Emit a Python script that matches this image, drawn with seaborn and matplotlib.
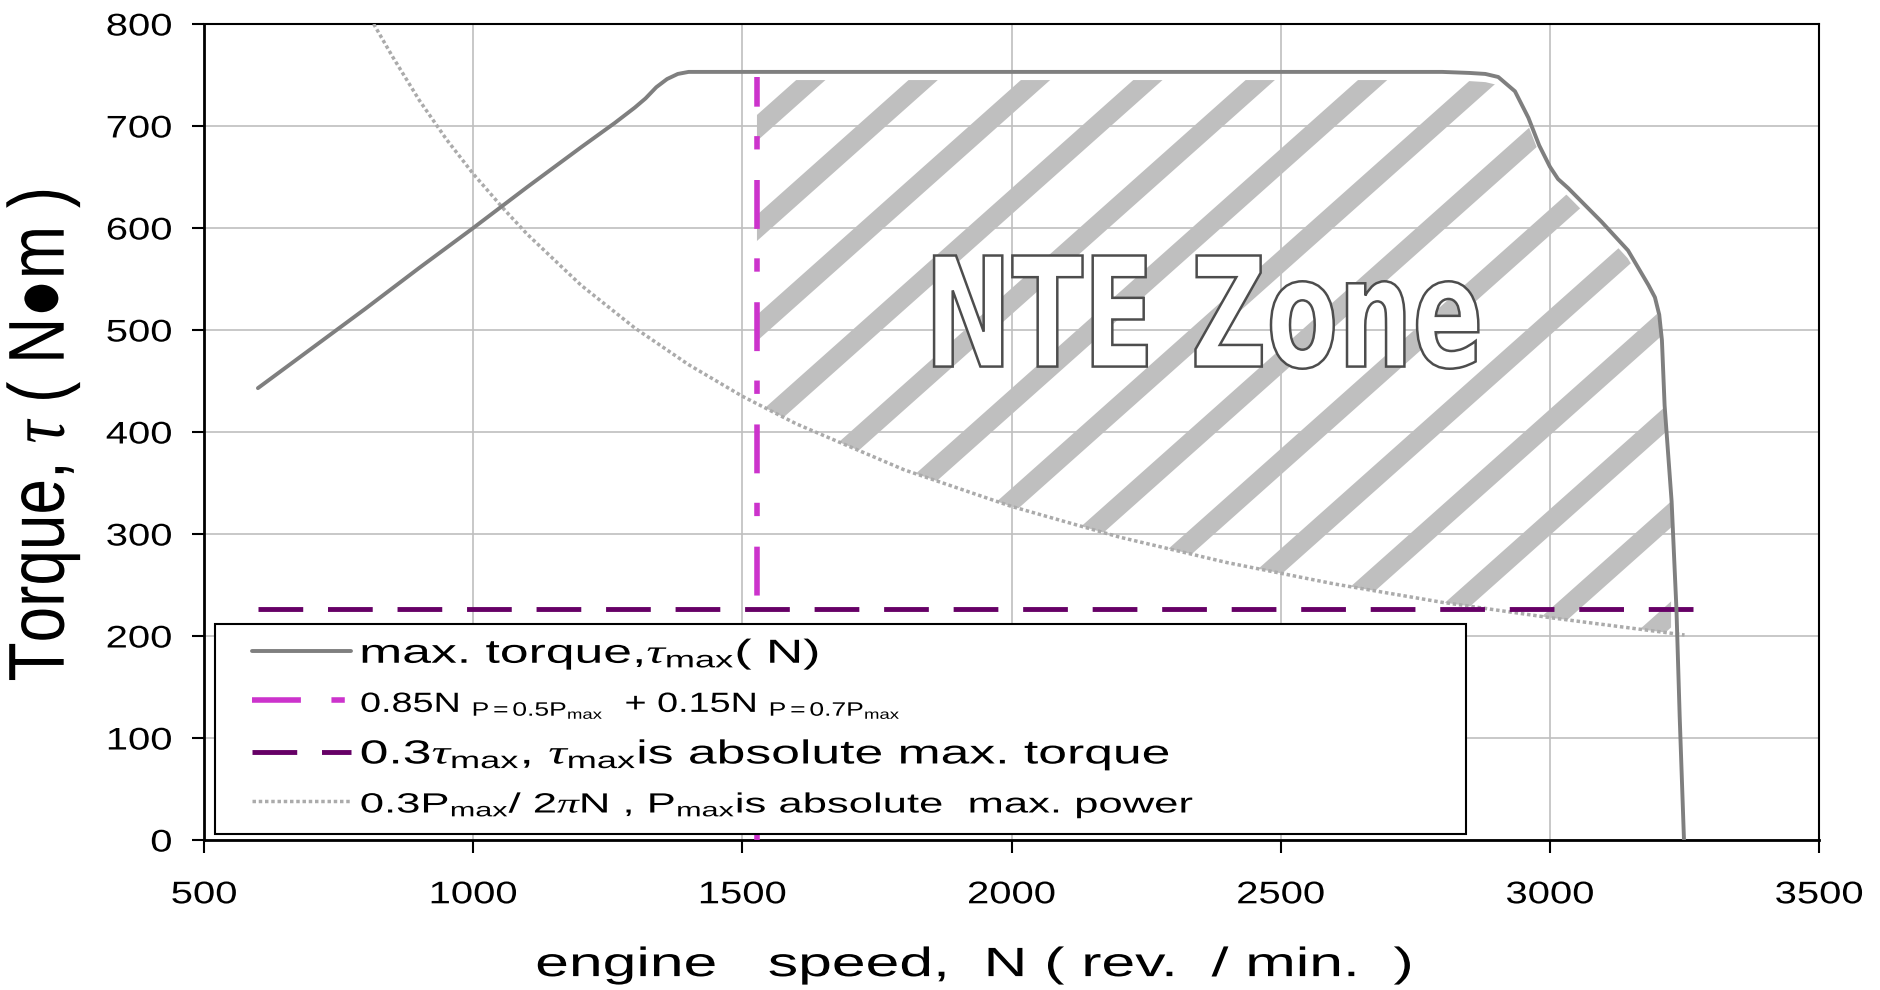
import numpy as np
import matplotlib.pyplot as plt
import seaborn as sns
from matplotlib.lines import Line2D
from matplotlib.patches import PathPatch
from matplotlib.textpath import TextPath
from matplotlib.font_manager import FontProperties
from matplotlib.transforms import Affine2D
from matplotlib.patheffects import AbstractPathEffect
from matplotlib.legend_handler import HandlerLine2D

# max. torque curve (rpm, N*m)
max_torque_rpm = [600, 700, 800, 900, 1000, 1100, 1200, 1263, 1300, 1320, 1340, 1360, 1380, 1400,
                  1500, 2000, 2500, 2800, 2850, 2880, 2904, 2935, 2960, 2980, 3000, 3015, 3034,
                  3096, 3145, 3183, 3195, 3203, 3208, 3213, 3226, 3235, 3241, 3249]
max_torque_nm = [443, 482, 521, 561, 600, 640, 679, 703, 718, 727, 738, 746, 751, 753,
                 753, 753, 753, 753, 752, 751, 748, 734, 708, 681, 660, 648, 639,
                 606, 578, 544, 532, 515, 490, 426, 332, 226, 121, 0]

# 0.3Pmax / 2piN curve
power_rpm = [815, 850, 900, 950, 1000, 1056, 1100, 1200, 1300, 1400, 1500, 1600,
             1800, 2000, 2200, 2400, 2600, 2800, 3000, 3250]
power_nm = [800, 768, 725, 687, 653, 619, 594, 544, 502, 466, 435, 408,
            363, 327, 297, 272, 251, 233, 218, 201]

# NTE limits
nte_rpm = 1527
nte_top = 748
tau_limit = 226
tau_limit_rpm = [600, 3290]

x_ticks = [500, 1000, 1500, 2000, 2500, 3000, 3500]
y_ticks = [0, 100, 200, 300, 400, 500, 600, 700, 800]

labels = [
    r"max. torque,$\tau_{\rm max}$( N)",
    r"0.85N $_{\rm P=0.5P_{max}}$  + 0.15N $_{\rm P=0.7P_{max}}$",
    r"0.3$\tau_{\rm max}$, $\tau_{\rm max}$is absolute max. torque",
    r"0.3P$_{\rm max}$/ 2$\pi$N , P$_{\rm max}$is absolute  max. power",
]
label_sizes = [24, 20, 24, 20]
label_stretch = [1.55, 1.36, 1.55, 1.57]


class Stretch(AbstractPathEffect):
    # widen glyphs, the source picture has stretched text
    def __init__(self, sx=1.0, sy=1.0, anchor='center'):
        super().__init__()
        self.sx, self.sy, self.anchor = sx, sy, anchor

    def draw_path(self, renderer, gc, tpath, affine, rgbFace=None):
        ext = tpath.get_extents()
        if self.anchor == 'left':
            cx = ext.x0
        elif self.anchor == 'right':
            cx = ext.x1
        else:
            cx = (ext.x0 + ext.x1) / 2
        cy = (ext.y0 + ext.y1) / 2
        t = Affine2D().translate(-cx, -cy).scale(self.sx, self.sy).translate(cx, cy)
        renderer.draw_path(gc, tpath, t + affine, rgbFace)


class ShiftedLine(HandlerLine2D):
    # legend line starting a bit further right in its box
    shift = 17

    def create_artists(self, legend, orig_handle, xdescent, ydescent, width, height, fontsize, trans):
        arts = super().create_artists(legend, orig_handle, xdescent, ydescent, width, height,
                                      fontsize, trans)
        for a in arts:
            xd = np.asarray(a.get_xdata(), float)
            if len(xd) > 1:
                a.set_xdata(np.linspace(self.shift, xd[-1], len(xd)))
        return arts


sns.set_theme(style='whitegrid')
plt.rcParams['font.family'] = ['Liberation Sans', 'DejaVu Sans']
plt.rcParams['mathtext.fontset'] = 'custom'
plt.rcParams['mathtext.rm'] = 'Liberation Sans'
plt.rcParams['mathtext.it'] = 'Liberation Serif:italic'
plt.rcParams['mathtext.fallback'] = 'stixsans'

fig = plt.figure(figsize=(18.81, 9.9), dpi=100)
ax = fig.add_axes([0.1085, 0.1515, 0.8586, 0.8243])
ax.set_facecolor('white')

# NTE zone region, used to clip the stripes
grid = np.linspace(nte_rpm, 3225, 400)
upper = np.interp(grid, max_torque_rpm, max_torque_nm) - 8
lower = np.interp(grid, power_rpm, power_nm)
upper = np.maximum(upper, lower)
zone = ax.fill_between(grid, lower, upper, facecolor='none', edgecolor='none', lw=0)
zone_path = zone.get_paths()[0]

# diagonal stripes (axes fraction units)
slope = 0.89 * 1615 / 816
step = 100 / 816
x0, y0 = (nte_rpm - 500) / 3000, 600 / 800
for k in range(-12, 14):
    yy = y0 + k * step
    st, = ax.plot([0, 1], [yy - slope * x0, yy + slope * (1 - x0)], transform=ax.transAxes,
                  color='#BFBFBF', lw=14, solid_capstyle='butt', zorder=2)
    st.set_clip_path(zone_path, ax.transData)

sns.lineplot(x=power_rpm, y=power_nm, ax=ax, color='#ABABAB', lw=2.5, ls=(0, (1, 0.8)),
             sort=False, estimator=None, zorder=3)
ax.plot([nte_rpm, nte_rpm], [0, nte_top], color='#CC33CC', lw=4,
        dashes=(8.8, 5.5, 2.4, 5.3), zorder=3)
ax.plot(tau_limit_rpm, [tau_limit, tau_limit], color='#660066', lw=3.5,
        dashes=(9.2, 5.1), zorder=3)
sns.lineplot(x=max_torque_rpm, y=max_torque_nm, ax=ax, color='#7F7F7F', lw=2.8,
             sort=False, estimator=None, zorder=4)

# NTE Zone lettering
tp = TextPath((0, 0), "NTE Zone", size=100, prop=FontProperties(family='DejaVu Sans', weight='bold'))
ext = tp.get_extents()
tx0, tx1, ty0, ty1 = 1856, 2867, 462, 573
tr = (Affine2D().translate(-ext.x0, -ext.y0)
      .scale((tx1 - tx0) / ext.width, (ty1 - ty0) / ext.height)
      .translate(tx0, ty0))
ax.add_patch(PathPatch(tr.transform_path(tp), facecolor='white', edgecolor='#4D4D4D',
                       lw=1.8, zorder=5))

ax.set_xlim(500, 3500)
ax.set_ylim(0, 800)
ax.set_xticks(x_ticks)
ax.set_yticks(y_ticks)
ax.grid(True, color='#BFBFBF', lw=1.2)
ax.set_axisbelow(True)
for s in ax.spines.values():
    s.set_color('black')
    s.set_linewidth(1.5)
ax.spines['left'].set_linewidth(2)
ax.spines['bottom'].set_linewidth(2)
ax.tick_params(axis='both', which='major', direction='out', length=9, width=1.5,
               color='black', labelsize=22.5, labelcolor='black', left=True, bottom=True)
ax.tick_params(axis='x', pad=20)
ax.tick_params(axis='y', pad=14)
for lbl in ax.get_xticklabels():
    lbl.set_path_effects([Stretch(1.28, 1)])
for lbl in ax.get_yticklabels():
    lbl.set_path_effects([Stretch(1.28, 1, 'right')])

xl = ax.set_xlabel("engine   speed,  N ( rev.  / min.  )", fontsize=29.5, color='black')
ax.xaxis.set_label_coords(0.477, -0.13)
xl.set_path_effects([Stretch(1.48, 1)])
yl = ax.set_ylabel(r"Torque, $\tau$ ( N●m )", fontsize=46, color='black')
yl.set_verticalalignment('center')
ax.yaxis.set_label_coords(-0.0997, 0.496)
yl.set_path_effects([Stretch(1, 1.24)])

handles = [
    Line2D([], [], color='#7F7F7F', lw=2.8),
    Line2D([], [], color='#CC33CC', lw=4, dashes=(8.8, 5.5, 2.4, 5.3)),
    Line2D([], [], color='#660066', lw=3.5, dashes=(9.2, 5.1)),
    Line2D([], [], color='#ABABAB', lw=2.5, ls=(0, (1, 0.8))),
]
leg = ax.legend(handles, labels, loc='lower left', bbox_to_anchor=(0.0068, 0.0074, 0.7746, 0.2),
                mode='expand', borderaxespad=0, fontsize=24, handlelength=3.67,
                handletextpad=0.29, borderpad=0.4, labelspacing=0.5, fancybox=False,
                framealpha=1, edgecolor='black', handler_map={Line2D: ShiftedLine()})
leg.get_frame().set_linewidth(1.5)
leg.set_zorder(6)
for t, sz, sx in zip(leg.get_texts(), label_sizes, label_stretch):
    t.set_fontsize(sz)
    t.set_color('black')
    t.set_path_effects([Stretch(sx, 1, 'left')])

fig.savefig('out.png', dpi=100, facecolor='white')
